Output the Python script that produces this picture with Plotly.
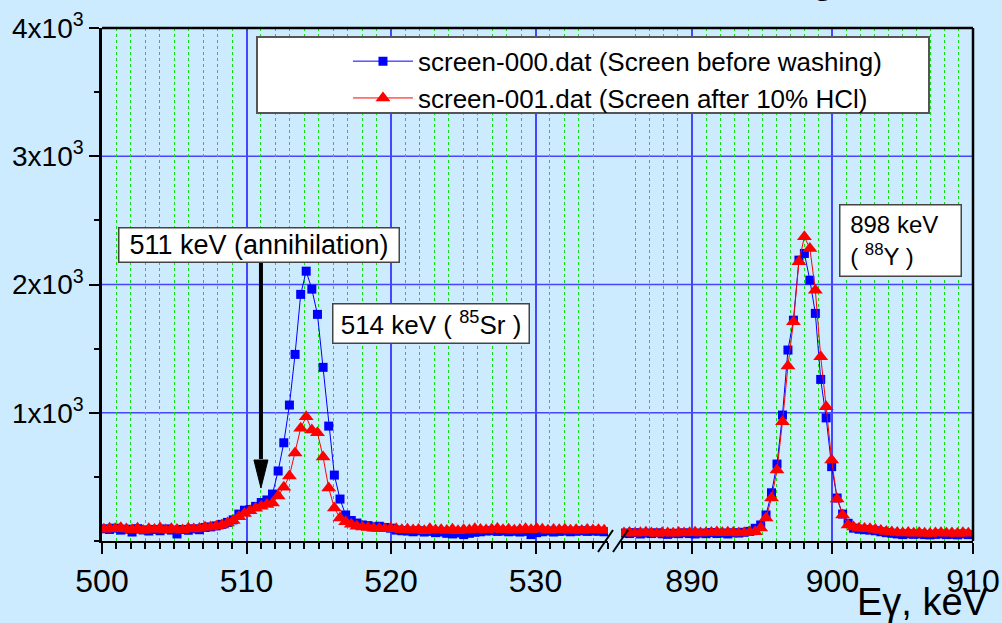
import plotly.graph_objects as go

# ---------------- data ----------------
# Left part of the spectrum (500 - 535 keV)
energy_low = [500.13, 500.52, 500.91, 501.30, 501.69, 502.08, 502.46, 502.85, 503.24, 503.63,
              504.02, 504.41, 504.80, 505.19, 505.58, 505.97, 506.35, 506.74, 507.13, 507.52,
              507.91, 508.30, 508.69, 509.08, 509.47, 509.86, 510.24, 510.63, 511.02, 511.41,
              511.80, 512.19, 512.58, 512.97, 513.36, 513.75, 514.13, 514.52, 514.91, 515.30,
              515.69, 516.08, 516.47, 516.86, 517.25, 517.64, 518.02, 518.41, 518.80, 519.19,
              519.58, 519.97, 520.36, 520.75, 521.14, 521.53, 521.91, 522.30, 522.69, 523.08,
              523.47, 523.86, 524.25, 524.64, 525.03, 525.42, 525.80, 526.19, 526.58, 526.97,
              527.36, 527.75, 528.14, 528.53, 528.92, 529.31, 529.69, 530.08, 530.47, 530.86,
              531.25, 531.64, 532.03, 532.42, 532.81, 533.20, 533.58, 533.97, 534.36, 534.75]

counts_before_low = [95, 90, 100, 85, 92, 70, 96, 86, 78, 90,
                     80, 94, 85, 55, 90, 84, 95, 88, 105, 110,
                     118, 130, 145, 165, 210, 240, 245, 270, 300, 320,
                     366, 546, 766, 1060, 1455, 1923, 2104, 1964, 1767, 1354,
                     896, 514, 327, 203, 160, 140, 125, 120, 110, 115,
                     105, 100, 85, 80, 78, 72, 80, 70, 75, 65,
                     70, 60, 55, 62, 50, 60, 68, 72, 78, 80,
                     75, 78, 72, 76, 70, 75, 50, 65, 72, 78,
                     70, 75, 78, 72, 76, 80, 75, 78, 76, 72]

counts_after_low = [92, 100, 96, 104, 94, 88, 100, 82, 96, 90,
                    102, 85, 96, 90, 86, 100, 94, 98, 108, 110,
                    115, 125, 140, 160, 190, 215, 235, 255, 270, 285,
                    296, 350, 420, 507, 686, 880, 969, 865, 844, 655,
                    413, 257, 179, 150, 130, 115, 110, 105, 100, 98,
                    95, 100, 95, 88, 92, 85, 90, 80, 95, 85,
                    88, 82, 92, 80, 88, 85, 95, 90, 86, 92,
                    98, 88, 92, 84, 90, 95, 88, 98, 92, 84,
                    90, 88, 92, 84, 88, 82, 90, 86, 88, 84]

# Right part of the spectrum (885 - 910 keV)
energy_high = [885.16, 885.55, 885.94, 886.33, 886.72, 887.11, 887.49, 887.88, 888.27, 888.66,
               889.05, 889.44, 889.83, 890.22, 890.61, 891.00, 891.38, 891.77, 892.16, 892.55,
               892.94, 893.33, 893.72, 894.11, 894.50, 894.89, 895.27, 895.66, 896.05, 896.44,
               896.83, 897.22, 897.61, 898.00, 898.39, 898.78, 899.16, 899.55, 899.94, 900.33,
               900.72, 901.11, 901.50, 901.89, 902.28, 902.67, 903.05, 903.44, 903.83, 904.22,
               904.61, 905.00, 905.39, 905.78, 906.17, 906.56, 906.94, 907.33, 907.72, 908.11,
               908.50, 908.89, 909.28, 909.67]

counts_before_high = [62, 58, 65, 55, 62, 58, 64, 56, 52, 60,
                      57, 64, 58, 55, 62, 57, 66, 58, 62, 55,
                      64, 62, 68, 75, 99, 125, 203, 376, 600, 982,
                      1489, 1722, 2190, 2242, 2034, 1775, 1260, 960, 580, 335,
                      210, 138, 100, 92, 88, 85, 80, 72, 65, 60,
                      55, 50, 56, 52, 55, 50, 48, 52, 55, 50,
                      52, 48, 55, 50]

counts_after_high = [62, 66, 60, 64, 68, 62, 58, 64, 62, 60,
                     66, 62, 64, 68, 62, 64, 66, 70, 64, 68,
                     66, 62, 64, 70, 72, 101, 179, 335, 553, 930,
                     1364, 1709, 2177, 2372, 2281, 1956, 1437, 1047, 631, 327,
                     203, 125, 110, 100, 98, 95, 90, 82, 75, 70,
                     66, 62, 66, 60, 64, 60, 58, 62, 64, 60,
                     62, 58, 64, 60]

series_names = ["screen-000.dat (Screen before washing)",
                "screen-001.dat (Screen after 10% HCl)"]

y_tick_values = [1000, 2000, 3000, 4000]
y_tick_labels = ["1x10<sup>3</sup>", "2x10<sup>3</sup>", "3x10<sup>3</sup>", "4x10<sup>3</sup>"]

# ---------------- styling ----------------
FONT = "Liberation Sans, Arial, sans-serif"
BG = "#CCEBFF"
BLUE = "#0000FF"
RED = "#FF0000"
GRID_BLUE = "rgb(70,70,255)"
GRID_GREEN = "#11DD11"

fig = go.Figure()

# blue series (before washing)
fig.add_trace(go.Scatter(x=energy_low, y=counts_before_low, xaxis="x", yaxis="y",
                         mode="lines+markers", name=series_names[0],
                         line=dict(color=BLUE, width=1),
                         marker=dict(symbol="square", size=9, color=BLUE, line=dict(width=0))))
fig.add_trace(go.Scatter(x=energy_high, y=counts_before_high, xaxis="x2", yaxis="y",
                         mode="lines+markers", name=series_names[0], showlegend=False,
                         line=dict(color=BLUE, width=1),
                         marker=dict(symbol="square", size=9, color=BLUE, line=dict(width=0))))
# red series (after HCl)
fig.add_trace(go.Scatter(x=energy_low, y=counts_after_low, xaxis="x", yaxis="y",
                         mode="lines+markers", name=series_names[1],
                         line=dict(color=RED, width=1),
                         marker=dict(symbol="triangle-up", size=13, color=RED, line=dict(width=0))))
fig.add_trace(go.Scatter(x=energy_high, y=counts_after_high, xaxis="x2", yaxis="y",
                         mode="lines+markers", name=series_names[1], showlegend=False,
                         line=dict(color=RED, width=1),
                         marker=dict(symbol="triangle-up", size=13, color=RED, line=dict(width=0))))

xaxis_common = dict(
    showline=True, linecolor="black", linewidth=2,
    ticks="outside", ticklen=11, tickwidth=2, tickcolor="black",
    dtick=10, showgrid=True, gridcolor=GRID_BLUE, gridwidth=1.5,
    zeroline=False, automargin=False,
    tickfont=dict(family=FONT, size=32, color="black"),
    minor=dict(dtick=1, ticks="outside", ticklen=6, tickwidth=1.5, tickcolor="black",
               showgrid=True, gridcolor=GRID_GREEN, griddash="dot", gridwidth=1),
)

fig.update_layout(
    width=1002, height=623,
    paper_bgcolor=BG, plot_bgcolor=BG,
    margin=dict(l=102, r=29, t=28, b=82, autoexpand=False),
    font=dict(family=FONT, color="black"),
    showlegend=True,
    xaxis=dict(domain=[0, 0.581], range=[500, 535.02], tick0=500, anchor="y", **xaxis_common),
    xaxis2=dict(domain=[0.5959, 1], range=[884.95, 910], tick0=890, anchor="y", **xaxis_common),
    yaxis=dict(range=[0, 4000], tickmode="array", tickvals=y_tick_values, ticktext=y_tick_labels,
               showline=True, linecolor="black", linewidth=2.5, automargin=False,
               ticks="outside", ticklen=10, tickwidth=2, tickcolor="black",
               showgrid=False, zeroline=False,
               tickfont=dict(family=FONT, size=28, color="black"),
               minor=dict(tickmode="linear", tick0=0, dtick=500, ticks="outside", ticklen=5,
                          tickwidth=2, tickcolor="black", showgrid=False)),
    legend=dict(x=0.2824, y=0.981, xanchor="left", yanchor="top",
                bgcolor="rgba(0,0,0,0)", borderwidth=0, itemwidth=60,
                font=dict(family=FONT, size=26, color="black"), tracegroupgap=0),
)

def px_x(px):
    return (px - 102) / 871.0

def px_y(py):
    return (541 - py) / 513.0

shapes = []
# horizontal major grid lines crossing the break
for v in [1000, 2000, 3000]:
    shapes.append(dict(type="line", xref="paper", yref="y", x0=0, x1=1, y0=v, y1=v,
                       line=dict(color=GRID_BLUE, width=1.5), layer="below"))
# top and right frame
shapes.append(dict(type="line", xref="paper", yref="paper", x0=0, x1=1, y0=1, y1=1,
                   line=dict(color="black", width=2.5)))
shapes.append(dict(type="line", xref="paper", yref="paper", x0=1, x1=1, y0=0, y1=1,
                   line=dict(color="black", width=2.5)))
# legend box
shapes.append(dict(type="rect", xref="paper", yref="paper",
                   x0=px_x(257), x1=px_x(929), y0=px_y(113), y1=px_y(37),
                   fillcolor="white", line=dict(color="#555555", width=2)))
# axis break marks
shapes.append(dict(type="line", xref="paper", yref="paper", x0=px_x(598), x1=px_x(613),
                   y0=px_y(552), y1=px_y(530), line=dict(color="black", width=2)))
shapes.append(dict(type="line", xref="paper", yref="paper", x0=px_x(613), x1=px_x(628),
                   y0=px_y(552), y1=px_y(530), line=dict(color="black", width=2)))
# arrow for 511 keV line
shapes.append(dict(type="line", xref="x", yref="y", x0=511.0, x1=511.0, y0=640, y1=2175,
                   line=dict(color="black", width=4)))
shapes.append(dict(type="path", xref="x", yref="y", xsizemode="pixel", ysizemode="pixel",
                   xanchor=511.0, yanchor=413, path="M-7,28 L7,28 L0,0 Z",
                   fillcolor="black", line=dict(color="black", width=1)))
fig.update_layout(shapes=shapes)

annotations = [
    dict(text="511 keV (annihilation)", xref="x", yref="y", x=510.83, y=2311,
         showarrow=False, width=279, height=33, bgcolor="white", bordercolor="#444444",
         borderwidth=1.5, borderpad=0, font=dict(family=FONT, size=27, color="black")),
    dict(text="514 keV ( <sup>85</sup>Sr )", xref="x", yref="y", x=522.77, y=1695,
         showarrow=False, width=195, height=38, bgcolor="white", bordercolor="#444444",
         borderwidth=1.5, borderpad=0, font=dict(family=FONT, size=26, color="black")),
    dict(text="&nbsp;898 keV<br>&nbsp;( <sup>88</sup>Y )", xref="x2", yref="y", x=904.84, y=2342,
         showarrow=False, width=114, height=64, align="left", bgcolor="white",
         bordercolor="#444444", borderwidth=1.5, borderpad=3,
         font=dict(family=FONT, size=24, color="black")),
    dict(text="E\u03b3, keV", xref="paper", yref="paper", x=px_x(991), y=px_y(625),
         xanchor="right", yanchor="bottom", showarrow=False,
         font=dict(family=FONT, size=38, color="black")),
    dict(text="<b>washing</b>", xref="paper", yref="paper", x=px_x(836), y=px_y(3),
         xanchor="right", yanchor="bottom", showarrow=False,
         font=dict(family=FONT, size=36, color="black")),
]
fig.update_layout(annotations=annotations)

fig.write_html("out.html",
               config={"displayModeBar": False},
               post_script="document.body.style.margin='0px';"
                           "document.body.style.overflow='hidden';"
                           "document.body.style.background='" + BG + "';")
